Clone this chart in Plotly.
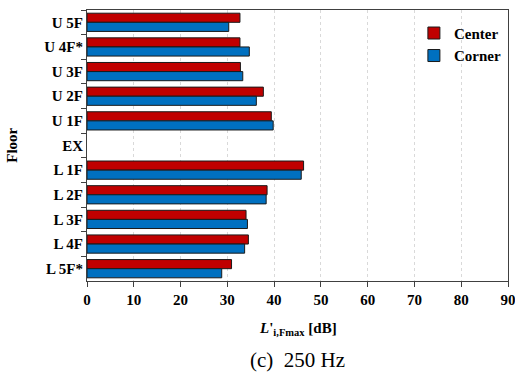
import plotly.graph_objects as go

floors = ["U 5F", "U 4F*", "U 3F", "U 2F", "U 1F", "EX", "L 1F", "L 2F", "L 3F", "L 4F", "L 5F*"]
center = [32.7, 32.7, 32.8, 37.7, 39.4, None, 46.3, 38.5, 34.0, 34.5, 30.9]
corner = [30.3, 34.7, 33.3, 36.2, 39.8, None, 45.8, 38.3, 34.3, 33.7, 28.8]
x_ticks = [0, 10, 20, 30, 40, 50, 60, 70, 80, 90]

FONT = "Liberation Serif"

fig = go.Figure()
fig.add_trace(go.Bar(y=floors, x=center, orientation="h", name="Center",
                     marker=dict(color="#C00000", line=dict(color="#1a1a1a", width=1))))
fig.add_trace(go.Bar(y=floors, x=corner, orientation="h", name="Corner",
                     marker=dict(color="#0070C0", line=dict(color="#1a1a1a", width=1))))

fig.update_layout(
    width=515, height=379,
    margin=dict(l=87, r=7, t=10, b=98, autoexpand=False),
    barmode="group", bargap=0.26, bargroupgap=0,
    plot_bgcolor="white", paper_bgcolor="white",
    font=dict(family=FONT, color="black"),
    showlegend=True,
    legend=dict(x=0.995, y=0.975, xanchor="right", yanchor="top",
                font=dict(family=FONT, size=15, color="black", weight="bold"),
                bgcolor="rgba(0,0,0,0)", itemwidth=30, tracegroupgap=0),
    xaxis=dict(range=[0, 90], tickvals=x_ticks, ticks="outside", ticklen=5,
               tickcolor="#404040", automargin=False, ticklabeloverflow="allow",
               showline=True, linecolor="#404040", linewidth=1, mirror=True,
               showgrid=True, gridcolor="#d9d9d9", griddash="dot", gridwidth=1,
               zeroline=False,
               tickfont=dict(family=FONT, size=15, color="black", weight="bold")),
    yaxis=dict(autorange="reversed", ticks="outside", ticklen=5, tickson="boundaries",
               tickcolor="#404040", automargin=False,
               showline=True, linecolor="#404040", linewidth=1, mirror=True,
               showgrid=False,
               tickfont=dict(family=FONT, size=15, color="black", weight="bold")),
)

fig.add_annotation(text="<i>L</i>'<sub>i,Fmax</sub> [dB]", x=0.5, y=-0.177,
                   xref="paper", yref="paper", xanchor="center", yanchor="middle",
                   showarrow=False,
                   font=dict(family=FONT, size=15, color="black", weight="bold"))
fig.add_annotation(text="Floor", x=-0.18, y=0.5, xref="paper", yref="paper",
                   xanchor="center", yanchor="middle", textangle=-90, showarrow=False,
                   font=dict(family=FONT, size=15, color="black", weight="bold"))
fig.add_annotation(text="(c)  250 Hz", x=0.5, y=-0.24, xref="paper", yref="paper",
                   xanchor="center", yanchor="top", showarrow=False,
                   font=dict(family=FONT, size=21, color="black"))

fig.write_html("out.html", config={"displayModeBar": False},
               post_script="document.body.style.margin='0';document.body.style.overflow='hidden';")
